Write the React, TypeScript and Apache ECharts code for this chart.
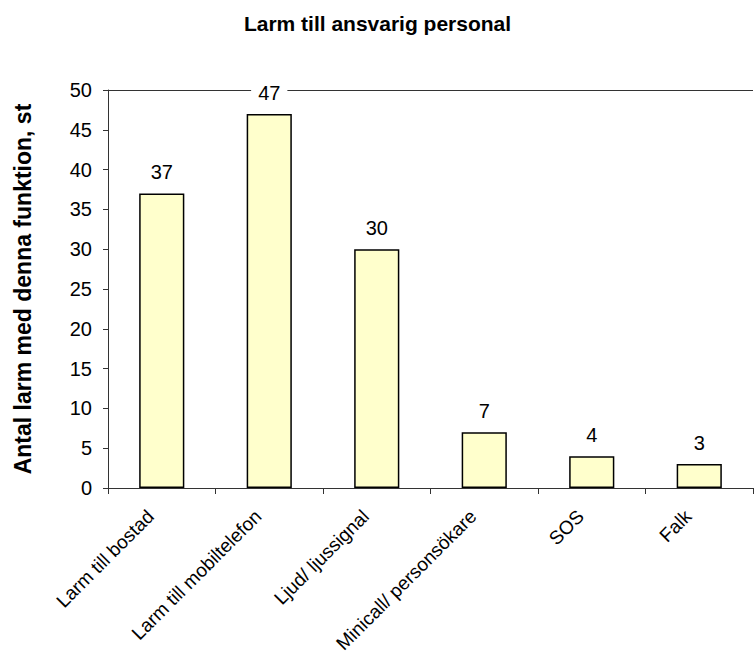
import { useEffect, useRef } from "react";
import * as echarts from "echarts";

const CATEGORIES = [
  "Larm till bostad",
  "Larm till mobiltelefon",
  "Ljud/ ljussignal",
  "Minicall/ personsökare",
  "SOS",
  "Falk",
];
const VALUES = [37, 47, 30, 7, 4, 3];
const Y_MAX = 50;
const Y_STEP = 5;

const FONT = "'Liberation Sans', Arial, sans-serif";
const INK = "#000000";
const AXIS = "#333333";
const BAR = "#FFFFCC";
const NBSP = "\u00A0";

export default function App() {
  const ref = useRef<HTMLDivElement>(null);

  useEffect(() => {
    if (!ref.current) return;
    document.body.style.margin = "0";
    const chart = echarts.init(ref.current, undefined, { renderer: "svg" });

    // only the top gridline (at 50) is drawn, like a plot-area border
    const lineCount = Y_MAX / Y_STEP + 1;
    const splitColors = Array.from({ length: lineCount }, (_, i) =>
      i === lineCount - 1 ? AXIS : "rgba(0,0,0,0)"
    );

    chart.setOption({
      animation: false,
      textStyle: { fontFamily: FONT },
      title: {
        text: "Larm till ansvarig personal",
        left: "center",
        top: 8,
        textStyle: { fontSize: 21, fontWeight: "bold", color: INK, fontFamily: FONT },
      },
      grid: {
        left: 108,
        right: 2,
        top: 90,
        bottom: 171,
        containLabel: false,
        outerBoundsMode: "none",
      },
      xAxis: {
        type: "category",
        data: CATEGORIES,
        axisLine: { lineStyle: { color: AXIS, width: 1 } },
        axisTick: { show: true, alignWithLabel: false, length: 6, interval: 0, lineStyle: { color: AXIS } },
        axisLabel: {
          rotate: 45,
          interval: 0,
          fontSize: 19,
          color: INK,
          margin: 14,
          // trailing hard spaces push each label down-left along its slant
          formatter: (v: string) => v + NBSP.repeat(3),
        },
      },
      yAxis: {
        type: "value",
        min: 0,
        max: Y_MAX,
        interval: Y_STEP,
        name: "Antal larm med denna funktion, st",
        nameLocation: "middle",
        nameGap: 74,
        nameRotate: 90,
        nameTextStyle: { fontSize: 23, fontWeight: "bold", color: INK },
        axisLine: { show: true, lineStyle: { color: AXIS, width: 1 } },
        axisTick: { show: true, length: 5, lineStyle: { color: AXIS } },
        axisLabel: { fontSize: 20, color: INK, margin: 16 },
        splitLine: { show: true, lineStyle: { color: splitColors, width: 1 } },
      },
      series: [
        {
          type: "bar",
          data: VALUES.map((v) => ({
            value: v,
            label:
              v === Y_MAX - 3
                ? { backgroundColor: "#FFFFFF", padding: [0, 7] }
                : undefined,
          })),
          barWidth: "42%",
          itemStyle: { color: BAR, borderColor: "#000000", borderWidth: 1.5 },
          label: { show: true, position: "top", distance: 11, fontSize: 20, color: INK },
        },
      ],
    });

    return () => chart.dispose();
  }, []);

  return (
    <div
      ref={ref}
      style={{ position: "fixed", left: 0, top: 0, width: 755, height: 659, background: "#FFFFFF" }}
    />
  );
}
